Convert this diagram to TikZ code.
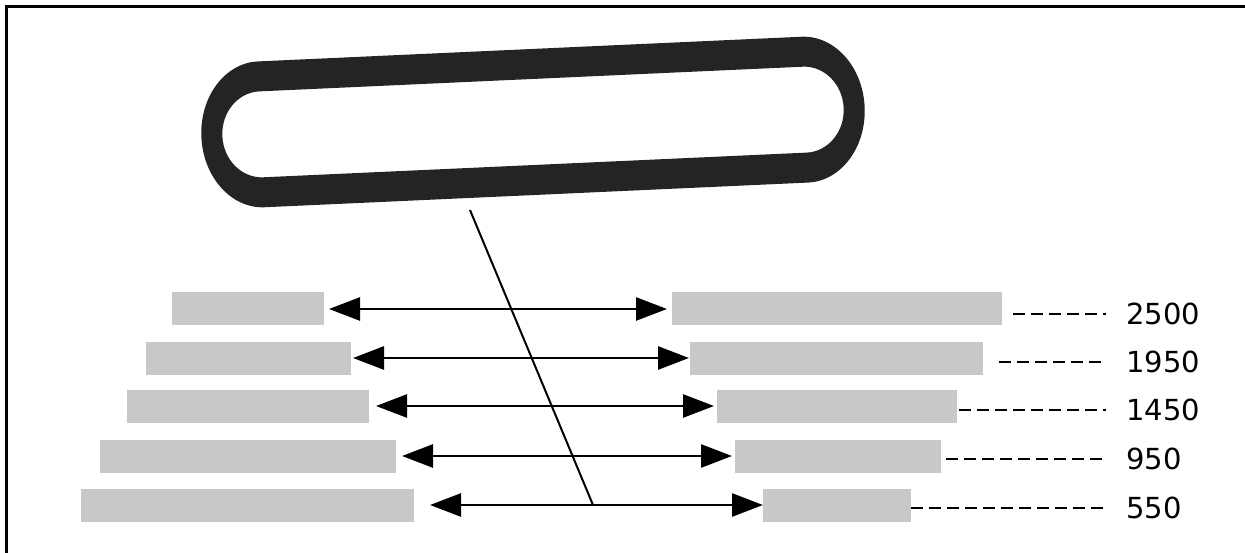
\documentclass[tikz,border=0pt]{standalone}
\usepackage{fontspec}
\setmainfont{DejaVu Sans}
\usetikzlibrary{positioning,arrows.meta}
\definecolor{bargray}{RGB}{200,200,200}
\definecolor{beltblack}{RGB}{36,36,36}

\begin{document}
\begin{tikzpicture}[x=1pt,y=-1pt,
                    bar/.style={fill=bargray,inner sep=0pt,outer sep=0pt,minimum height=33pt,anchor=west},
                    gap arrow/.style={{Triangle[length=31pt,width=23pt]}-{Triangle[length=31pt,width=23pt]},line width=2.6pt},
                    size label/.style={anchor=west,inner sep=0pt,font=\fontsize{29}{29}\selectfont},
                    guide/.style={dash pattern=on 12pt off 6pt,line width=2.6pt}]
  \useasboundingbox (0,0) rectangle (1245,553);
  \draw[line width=3pt] (6,553) -- (6,7) -- (1245,7);

  % the belt, long sides straight, ends half ellipses
  \begin{scope}[shift={(533,122)},rotate=2.6]
    \fill[beltblack,even odd rule]
      (-272,-73) -- (272,-73) arc[start angle=-90,end angle=90,x radius=60,y radius=73]
      -- (-272,73) arc[start angle=90,end angle=270,x radius=60,y radius=73] -- cycle
      (-272,-43) -- (272,-43) arc[start angle=-90,end angle=90,x radius=39,y radius=43]
      -- (-272,43) arc[start angle=90,end angle=270,x radius=39,y radius=43] -- cycle;
  \end{scope}

  % left and right bars
  \node[bar,minimum width=152pt] (l1) at (172,309) {};
  \node[bar,minimum width=205pt] (l2) at (146,358) {};
  \node[bar,minimum width=242pt] (l3) at (127,406) {};
  \node[bar,minimum width=296pt] (l4) at (100,456) {};
  \node[bar,minimum width=333pt] (l5) at (81,505) {};

  \node[bar,minimum width=330pt] (r1) at (672,309) {};
  \node[bar,minimum width=293pt] (r2) at (690,358) {};
  \node[bar,minimum width=240pt] (r3) at (717,406) {};
  \node[bar,minimum width=206pt] (r4) at (735,456) {};
  \node[bar,minimum width=148pt] (r5) at (763,505) {};

  \node[size label] (n1) at (1126,314) {2500};
  \node[size label] (n2) at (1126,362) {1950};
  \node[size label] (n3) at (1126,410) {1450};
  \node[size label] (n4) at (1126,459) {950};
  \node[size label] (n5) at (1126,508) {550};

  \draw[gap arrow] ([xshift=5pt]l1.east) -- ([xshift=-5pt]r1.west);
  \draw[gap arrow] ([xshift=2pt]l2.east) -- ([xshift=-1pt]r2.west);
  \draw[gap arrow] ([xshift=7pt]l3.east) -- ([xshift=-3pt]r3.west);
  \draw[gap arrow] ([xshift=6pt]l4.east) -- ([xshift=-3pt]r4.west);
  \draw[gap arrow] ([xshift=16pt]l5.east) -- (r5.west);

  \draw[guide] ([xshift=11pt]r1.east |- n1) -- ([xshift=-20pt]n1.west);
  \draw[guide] ([xshift=16pt]r2.east |- n2) -- ([xshift=-20pt]n2.west);
  \draw[guide] ([xshift=2pt]r3.east |- n3) -- ([xshift=-20pt]n3.west);
  \draw[guide] ([xshift=5pt]r4.east |- n4) -- ([xshift=-20pt]n4.west);
  \draw[guide] (r5.east |- n5) -- ([xshift=-20pt]n5.west);

  % pointer from the belt down to the lowest gap
  \coordinate (belt foot) at (470,210);
  \coordinate (hit) at (593,505);
  \draw[line width=2pt] (belt foot) -- (hit);
\end{tikzpicture}
\end{document}
